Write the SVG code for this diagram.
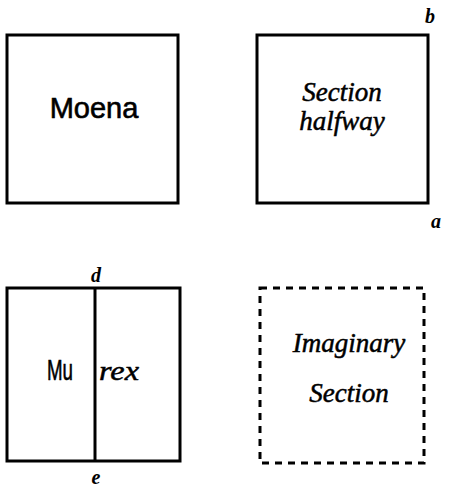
<svg xmlns="http://www.w3.org/2000/svg" width="450" height="488" viewBox="0 0 450 488">
<style>
.box{fill:none;stroke:#000;stroke-width:3}
.dash{fill:none;stroke:#000;stroke-width:3;stroke-dasharray:7,6}
.up{font-family:"Liberation Sans","DejaVu Sans",sans-serif;font-size:29px;fill:#000;stroke:#000;stroke-width:0.6}
.it{font-family:"Liberation Serif","DejaVu Serif",serif;font-style:italic;font-size:27px;fill:#000;stroke:#000;stroke-width:0.5}
.lbl{font-family:"Liberation Serif","DejaVu Serif",serif;font-style:italic;font-weight:bold;font-size:20px;fill:#000}
</style>
<rect width="450" height="488" fill="#fff"/>
<g id="moena">
<rect class="box" x="7" y="35" width="171" height="168"/>
<text class="up" x="94" y="118" text-anchor="middle">Moena</text>
</g>
<g id="section-halfway">
<rect class="box" x="257" y="35" width="171" height="168"/>
<text class="it" x="342" y="101" text-anchor="middle">Section</text>
<text class="it" x="342" y="130" text-anchor="middle">halfway</text>
<text class="lbl" x="430" y="23" text-anchor="middle">b</text>
<text class="lbl" x="436" y="228" text-anchor="middle" font-size="14">a</text>
</g>
<g id="murex">
<rect class="box" x="7" y="288" width="173" height="173"/>
<line class="box" x1="95" y1="288" x2="95" y2="461"/>
<text class="up" x="47" y="380" font-size="31" stroke-width="1.2" textLength="26" lengthAdjust="spacingAndGlyphs">Mu</text>
<text class="it" x="99" y="380" stroke-width="0.3" textLength="40" lengthAdjust="spacingAndGlyphs">rex</text>
<text class="lbl" x="96" y="282" text-anchor="middle">d</text>
<text class="lbl" x="96" y="484" text-anchor="middle">e</text>
</g>
<g id="imaginary-section">
<rect class="dash" x="260" y="288" width="164" height="175"/>
<text class="it" x="349" y="352" text-anchor="middle">Imaginary</text>
<text class="it" x="349" y="402" text-anchor="middle">Section</text>
</g>
</svg>
